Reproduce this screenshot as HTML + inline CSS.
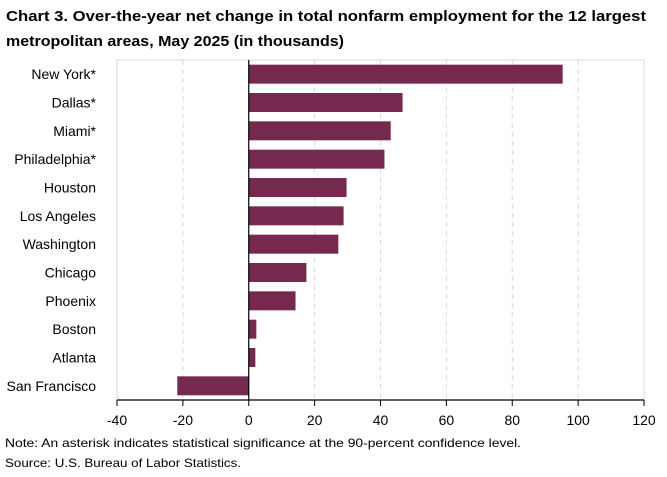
<!DOCTYPE html>
<html><head><meta charset="utf-8"><style>
body{margin:0;background:#fff;width:667px;height:472px;overflow:hidden;font-family:Calibri,"Liberation Sans",sans-serif;}
</style></head><body>
<svg width="667" height="472" xmlns="http://www.w3.org/2000/svg" font-family="Liberation Sans, sans-serif">
<text x="6" y="21" font-size="14.5" font-weight="bold" fill="#000" textLength="640" lengthAdjust="spacingAndGlyphs">Chart 3. Over-the-year net change in total nonfarm employment for the 12 largest</text>
<text x="6" y="46" font-size="14.5" font-weight="bold" fill="#000" textLength="338" lengthAdjust="spacingAndGlyphs">metropolitan areas, May 2025 (in thousands)</text>
<g id="grid"></g>
<rect x="117" y="60" width="527" height="340" fill="none" stroke="#d9d9d9" stroke-width="1"/>
<g id="bars"></g>
<g id="cats"></g>
<g id="xaxis"></g>
<text x="5" y="447" font-size="12" fill="#000" textLength="516" lengthAdjust="spacingAndGlyphs">Note: An asterisk indicates statistical significance at the 90-percent confidence level.</text>
<text x="5" y="467" font-size="12" fill="#000" textLength="236" lengthAdjust="spacingAndGlyphs">Source: U.S. Bureau of Labor Statistics.</text>
</svg>
<script>
const categories = ["New York*","Dallas*","Miami*","Philadelphia*","Houston","Los Angeles","Washington","Chicago","Phoenix","Boston","Atlanta","San Francisco"];
const values = [95.3,46.7,43.1,41.2,29.7,28.8,27.2,17.5,14.2,2.3,2.0,-21.7];
const ticks = [-40,-20,0,20,40,60,80,100,120];
const NS="http://www.w3.org/2000/svg";
const X0=117,X1=644,Y0=60,Y1=400,XMIN=-40,XMAX=120;
const xs=v=>X0+(v-XMIN)/(XMAX-XMIN)*(X1-X0);
const band=(Y1-Y0)/categories.length;
function mk(tag,attrs,parent){const e=document.createElementNS(NS,tag);for(const k in attrs)e.setAttribute(k,attrs[k]);parent.appendChild(e);return e;}
const grid=document.getElementById('grid'),bars=document.getElementById('bars'),cats=document.getElementById('cats'),xa=document.getElementById('xaxis');
ticks.forEach(t=>{
  if(t!==0&&t!==XMIN&&t!==XMAX){const l=mk('line',{x1:xs(t),x2:xs(t),y1:Y0,y2:Y1,stroke:'#d9d9d9','stroke-dasharray':'5,4'},grid);
  
  }
  const tk=mk('line',{x1:xs(t),x2:xs(t),y1:Y1,y2:Y1+6,stroke:'#000'},xa);
  
  
  const tl=mk('text',{x:xs(t),y:Y1+25,'text-anchor':'middle','font-size':'14',fill:'#000'},xa);
  tl.textContent=t;
  
  
});
categories.forEach((c,i)=>{
  const v=values[i],yc=Y0+band*(i+0.5),h=band*0.67;
  const r=mk('rect',{x:Math.min(xs(0),xs(v)),y:yc-h/2,width:Math.abs(xs(v)-xs(0)),height:h,fill:'#76294F'},bars);
  
  
  const t=mk('text',{x:96,y:yc+5,'text-anchor':'end','font-size':'14',fill:'#000'},cats);
  t.textContent=c;
  
  
});
const ax=mk('line',{x1:X0,x2:X1,y1:Y1,y2:Y1,stroke:'#000','stroke-width':1.3},xa);


const zl=mk('line',{x1:xs(0),x2:xs(0),y1:Y0,y2:Y1,stroke:'#000','stroke-width':1.2},xa);


</script>
</body></html>
